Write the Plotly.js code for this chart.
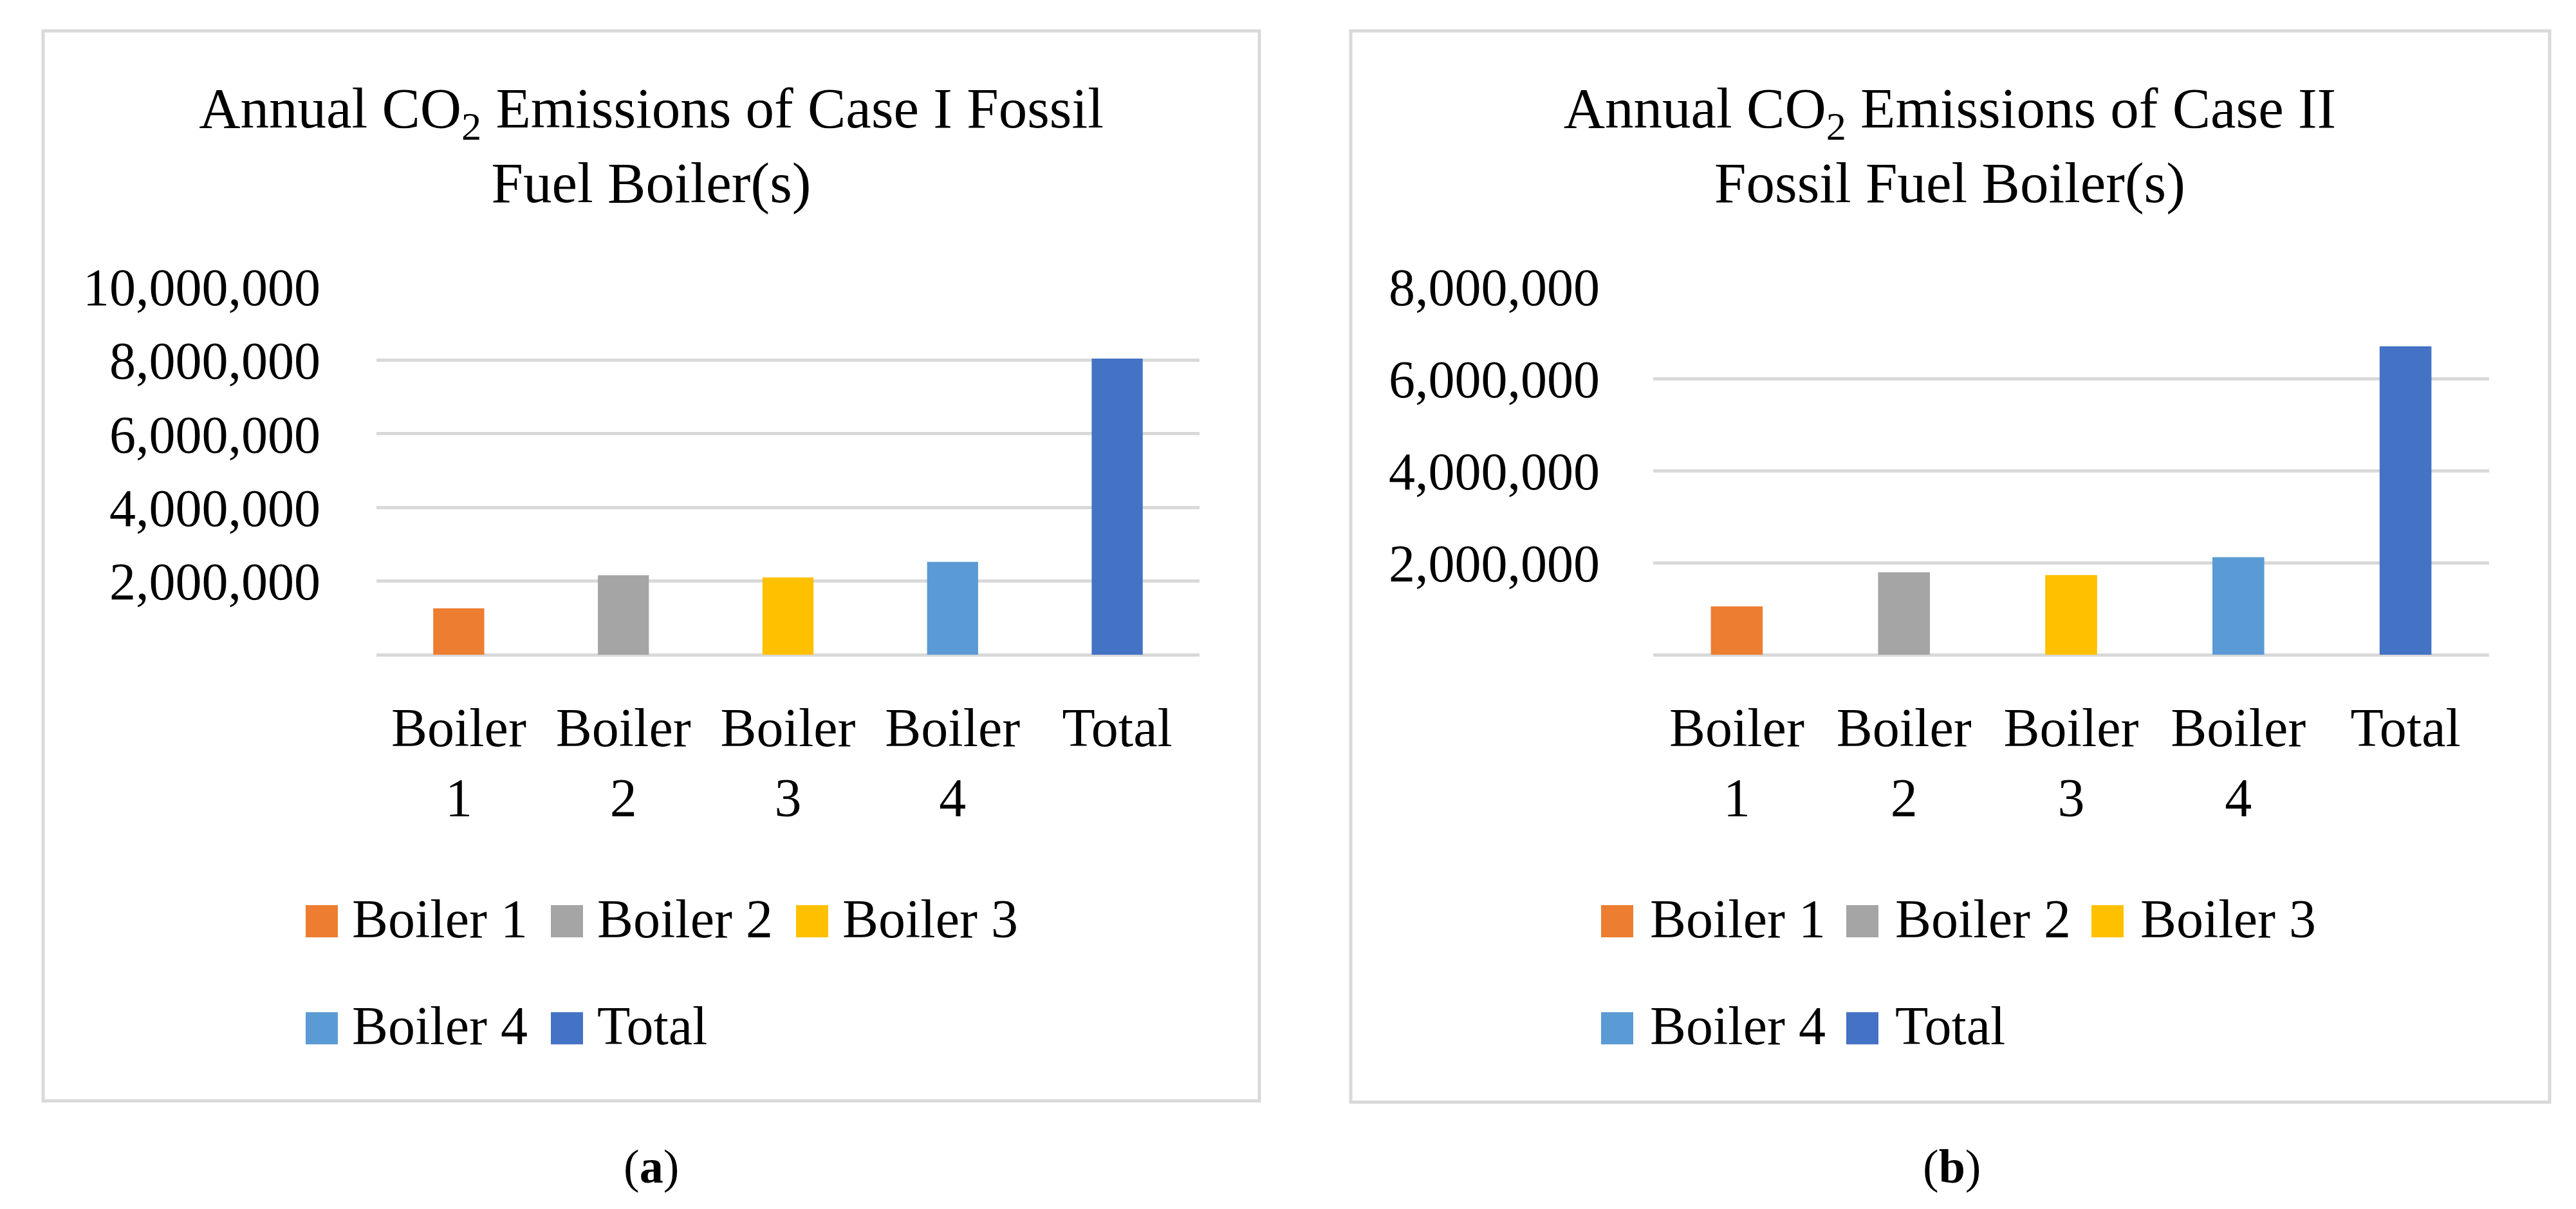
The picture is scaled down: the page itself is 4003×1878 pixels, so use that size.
<!DOCTYPE html>
<html>
<head>
<meta charset="utf-8">
<script src="https://cdn.plot.ly/plotly-3.0.1.min.js"></script>
<style>
  html, body { margin: 0; padding: 0; background: #ffffff; }
  #wrap { position: relative; width: 4003px; height: 1878px; background: #ffffff; }
  #panelA { position: absolute; left: 0; top: 0; width: 2001px; height: 1878px; }
  #panelB { position: absolute; left: 2001px; top: 0; width: 2002px; height: 1878px; }
</style>
</head>
<body>
<div id="wrap"><div id="panelA"></div><div id="panelB"></div></div>
<script>
// ---------------- data ----------------
const categories = ['Boiler 1', 'Boiler 2', 'Boiler 3', 'Boiler 4', 'Total'];
const categoryTickLabels = ['Boiler<br>1', 'Boiler<br>2', 'Boiler<br>3', 'Boiler<br>4', 'Total'];
const caseIEmissions = [1260000, 2160000, 2100000, 2520000, 8040000];
const caseIIEmissions = [1050000, 1790000, 1730000, 2120000, 6700000];
const caseIYTicks = [2000000, 4000000, 6000000, 8000000, 10000000];
const caseIIYTicks = [2000000, 4000000, 6000000, 8000000];
const caseITitle = 'Annual CO<sub>2</sub> Emissions of Case I Fossil<br>Fuel Boiler(s)';
const caseIITitle = 'Annual CO<sub>2</sub> Emissions of Case II<br>Fossil Fuel Boiler(s)';
const panelLabels = ['(<b>a</b>)', '(<b>b</b>)'];

// ---------------- style ----------------
const seriesColors = ['#ED7D31', '#A5A5A5', '#FFC000', '#5B9BD5', '#4472C4'];
const fontFam = '"Liberation Serif", "Times New Roman", serif';
const gridGray = '#D9D9D9';
const TITLE_SIZE = 89, TICK_SIZE = 84, YTICK_SIZE = 82, LEG_SIZE = 84;
const ASC = 0.891, CAP = 0.655, DESC = 0.216;   // Liberation Serif metrics
const LEG_ITEMWIDTH = 80;
const LEG_TEXTGAP = LEG_ITEMWIDTH + 10;
const SWATCH_D = 'M25,25H-25V-25H25Z';

// target pixel geometry (per panel, panel-local pixels)
const geomA = { W: 2001, H: 1878, plotL: 585, plotR: 1864, plotT: 445, plotB: 1017,
  frame: [67, 48, 1957, 1710], titleX: 1012, titleCapTop: 140,
  yLabelRight: 498, xLabelCapTop: 1104,
  legendTextX: 547, legendCapTops: [1401, 1560], swatchGap: 22,
  labelX: 1012, labelY: 1812 };
const geomB = { W: 2002, H: 1878, plotL: 568, plotR: 1867, plotT: 445, plotB: 1017,
  frame: [98, 48, 1961, 1712], titleX: 1029, titleCapTop: 140,
  yLabelRight: 485, xLabelCapTop: 1104,
  legendTextX: 563, legendCapTops: [1401, 1560], swatchGap: 26,
  labelX: 1032, labelY: 1812 };

function rectOf(el, gd) {
  const r = el.getBoundingClientRect(), o = gd.getBoundingClientRect();
  return { l: r.left - o.left, t: r.top - o.top, r: r.right - o.left, b: r.bottom - o.top };
}

// enlarge the legend colour squares and sit them just left of their labels
function placeSwatches(gd, g) {
  gd.querySelectorAll('g.legendpoints').forEach(function (lp) {
    const item = lp.closest('g.traces') || lp.parentNode;
    const t = item && (item.querySelector('text.legendtext') || item.querySelector('text'));
    if (!t) return;
    lp.querySelectorAll('path').forEach(function (p) {
      if (p.getAttribute('d') !== SWATCH_D) p.setAttribute('d', SWATCH_D);
      p.setAttribute('transform', 'translate(0,0)');
      const pr = p.getBoundingClientRect(), tr = t.getBoundingClientRect();
      if (!tr.width) return;
      const pcx = (pr.left + pr.right) / 2, pcy = (pr.top + pr.bottom) / 2;
      const baseline = tr.bottom - DESC * LEG_SIZE;
      const wantCx = tr.left - g.swatchGap - 25, wantCy = baseline - 25;
      p.setAttribute('transform', 'translate(' + (wantCx - pcx) + ',' + (wantCy - pcy) + ')');
    });
  });
}

function align(gd, g, layout) {
  const pw = g.plotR - g.plotL, ph = g.plotB - g.plotT;
  const upd = {};
  const tEl = gd.querySelector('.g-gtitle text') || gd.querySelector('text.gtitle');
  if (tEl) {
    const r = rectOf(tEl, gd);
    const capTop = r.t + (ASC - CAP) * TITLE_SIZE;
    upd['title.y'] = layout.title.y - (g.titleCapTop - capTop) / g.H;
  }
  const xt = gd.querySelector('.xtick text');
  if (xt) {
    const r = rectOf(xt, gd);
    const capTop = r.t + (ASC - CAP) * TICK_SIZE;
    upd['xaxis.ticklen'] = Math.max(0, layout.xaxis.ticklen + (g.xLabelCapTop - capTop));
  }
  let maxR = null;
  gd.querySelectorAll('.ytick text').forEach(function (e) {
    const r = rectOf(e, gd).r; maxR = maxR === null ? r : Math.max(maxR, r);
  });
  if (maxR !== null) upd['yaxis.ticklen'] = Math.max(0, layout.yaxis.ticklen + (maxR - g.yLabelRight));
  ['legend', 'legend2'].forEach(function (lg, k) {
    const grp = gd.querySelector('g.' + lg);
    const el = grp && grp.querySelector('text.legendtext');
    if (!el) return;
    const r = rectOf(el, gd);
    const capTop = r.t + (ASC - CAP) * LEG_SIZE;
    upd[lg + '.y'] = layout[lg].y - (g.legendCapTops[k] - capTop) / ph;
    upd[lg + '.x'] = layout[lg].x + (g.legendTextX - r.l) / pw;
  });
  return Plotly.relayout(gd, upd);
}

function buildPanel(divId, values, yTicks, title, label, g) {
  const pw = g.plotR - g.plotL, ph = g.plotB - g.plotT;
  const px = x => (x - g.plotL) / pw;
  const py = y => (g.plotB - y) / ph;
  const yMax = yTicks[yTicks.length - 1];

  const traces = categories.map((c, i) => ({
    type: 'bar', x: [c], y: [values[i]], name: c, width: 0.31,
    marker: { color: seriesColors[i], line: { width: 0 } },
    legend: i < 3 ? 'legend' : 'legend2', hoverinfo: 'skip'
  }));

  const legendCommon = {
    orientation: 'h', xanchor: 'left', yanchor: 'middle',
    x: px(g.legendTextX - LEG_TEXTGAP),
    font: { family: fontFam, size: LEG_SIZE, color: '#000000' },
    itemwidth: LEG_ITEMWIDTH,
    entrywidth: 381 - LEG_TEXTGAP - 5, entrywidthmode: 'pixels',
    bgcolor: 'rgba(0,0,0,0)', borderwidth: 0, traceorder: 'normal'
  };
  const tickFont = { family: fontFam, size: TICK_SIZE, color: '#000000' };

  const layout = {
    width: g.W, height: g.H,
    margin: { l: g.plotL, r: g.W - g.plotR, t: g.plotT, b: g.H - g.plotB, pad: 0, autoexpand: false },
    paper_bgcolor: '#ffffff', plot_bgcolor: '#ffffff',
    barmode: 'overlay', showlegend: true,
    title: {
      text: title, font: { family: fontFam, size: TITLE_SIZE, color: '#000000' },
      xref: 'paper', x: px(g.titleX), xanchor: 'center',
      yref: 'container', y: 1 - g.titleCapTop / g.H, yanchor: 'top'
    },
    xaxis: {
      type: 'category', categoryorder: 'array', categoryarray: categories,
      tickvals: categories, ticktext: categoryTickLabels, tickfont: tickFont,
      ticks: 'outside', ticklen: 70, tickcolor: 'rgba(0,0,0,0)',
      showgrid: false, showline: false, zeroline: false, fixedrange: true
    },
    yaxis: {
      range: [0, yMax], autorange: false, tickvals: yTicks, tickformat: ',d',
      tickfont: { family: fontFam, size: YTICK_SIZE, color: '#000000' },
      ticks: 'outside', ticklen: 84, tickcolor: 'rgba(0,0,0,0)',
      showgrid: true, gridcolor: gridGray, gridwidth: 5,
      zeroline: true, zerolinecolor: gridGray, zerolinewidth: 5, showline: false, fixedrange: true
    },
    legend: Object.assign({}, legendCommon, { y: py(g.legendCapTops[0] + 30) }),
    legend2: Object.assign({}, legendCommon, { y: py(g.legendCapTops[1] + 30) }),
    shapes: [{
      type: 'rect', xref: 'paper', yref: 'paper',
      x0: px(g.frame[0]), x1: px(g.frame[2]), y0: py(g.frame[3]), y1: py(g.frame[1]),
      line: { color: gridGray, width: 5 }, fillcolor: 'rgba(0,0,0,0)', layer: 'below'
    }],
    annotations: [{
      text: label, xref: 'paper', yref: 'paper', x: px(g.labelX), y: py(g.labelY),
      xanchor: 'center', yanchor: 'middle', showarrow: false,
      font: { family: fontFam, size: 74, color: '#000000' }
    }]
  };

  const div = document.getElementById(divId);
  const fix = () => placeSwatches(div, g);
  const obs = new MutationObserver(fix);
  obs.observe(div, { childList: true, subtree: true, attributes: true, attributeFilter: ['d'] });

  return Plotly.newPlot(div, traces, layout, { staticPlot: true, displayModeBar: false })
    .then(gd => align(gd, g, layout))
    .then(gd => {
      fix();
      if (gd.on) gd.on('plotly_afterplot', fix);
      requestAnimationFrame(fix);
      [0, 50, 150, 400, 1000].forEach(ms => setTimeout(fix, ms));
      return gd;
    });
}

buildPanel('panelA', caseIEmissions, caseIYTicks, caseITitle, panelLabels[0], geomA);
buildPanel('panelB', caseIIEmissions, caseIIYTicks, caseIITitle, panelLabels[1], geomB);
</script>
</body>
</html>
